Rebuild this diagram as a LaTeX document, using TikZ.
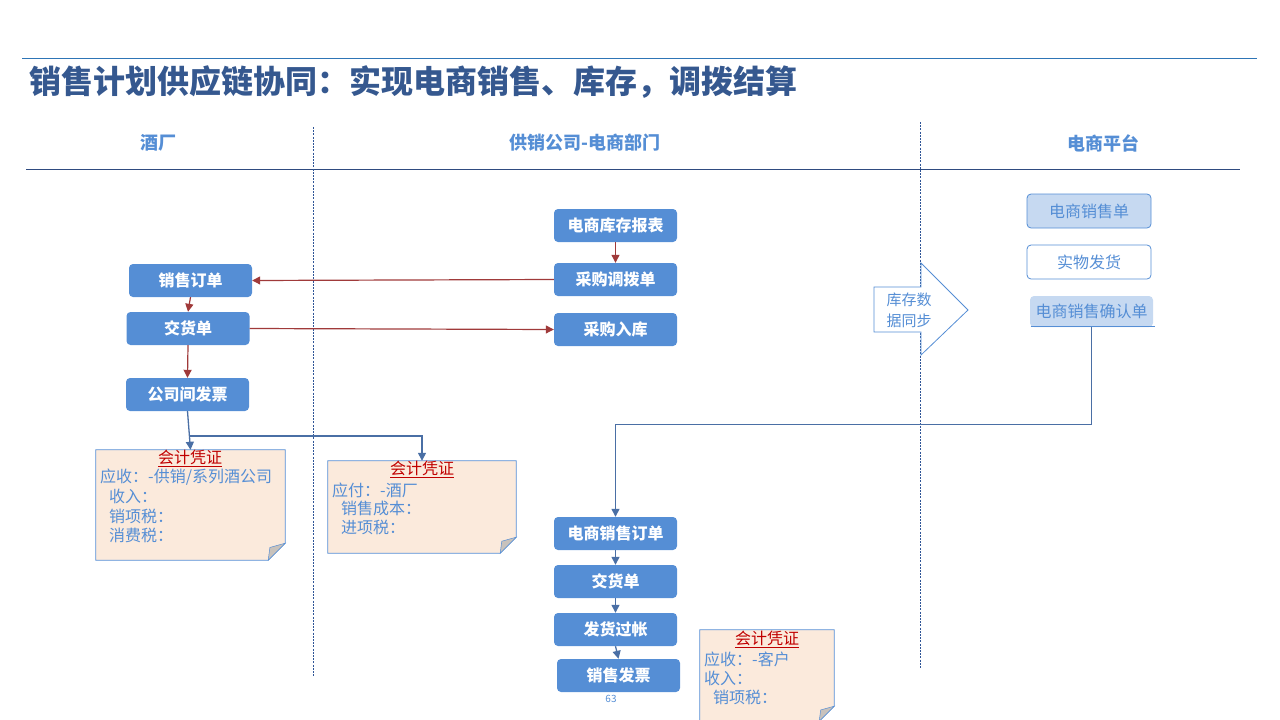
\documentclass[tikz,border=0pt]{standalone}
\usepackage{fontspec}
\setmainfont{Noto Sans CJK SC}
\usetikzlibrary{arrows.meta,calc}

\definecolor{boxblue}{HTML}{558ED5}
\definecolor{lightbox}{HTML}{C6D9F1}
\definecolor{titleblue}{HTML}{35588F}
\definecolor{ruleblue}{HTML}{2E75B6}
\definecolor{laneline}{HTML}{2F4B80}
\definecolor{dashblue}{HTML}{2F5597}
\definecolor{flowred}{HTML}{A03A3A}
\definecolor{flowblue}{HTML}{4A6FA5}
\definecolor{notefill}{HTML}{FBEADC}
\definecolor{foldgray}{HTML}{C8C2BC}
\definecolor{vouchred}{HTML}{C00000}

% sheet with a folded lower-right corner, drawn round an empty node
\newcommand{\notesheet}[2]{%
  \filldraw[fill=notefill, draw=boxblue, line width=0.8pt]
    (#1.north west) -- (#1.north east) -- ([yshift=#2]#1.south east)
    -- ([xshift=-#2]#1.south east) -- (#1.south west) -- cycle;
  \filldraw[fill=foldgray, draw=boxblue, line width=0.5pt]
    ([yshift=#2]#1.south east) -- ([xshift=-0.9*#2,yshift=0.75*#2]#1.south east)
    -- ([xshift=-#2]#1.south east) -- cycle;
}

\begin{document}
\begin{tikzpicture}[x=1pt,y=-1pt,
  flow/.style={rectangle, rounded corners=4pt, fill=boxblue, text=white,
    font=\bfseries\fontsize{16}{18}\selectfont, minimum width=123pt,
    minimum height=33pt, inner sep=0pt},
  platbox/.style={rectangle, rounded corners=4pt, draw=boxblue, line width=0.8pt,
    text=boxblue, font=\fontsize{16}{18}\selectfont, minimum width=124pt,
    minimum height=34pt, inner sep=0pt},
  lanehead/.style={text=boxblue, font=\bfseries\fontsize{18}{20}\selectfont},
  lanesep/.style={draw=dashblue, line width=0.6pt, dash pattern=on 2pt off 1.2pt},
  redarr/.style={draw=flowred, line width=1.2pt, -{Triangle[length=8pt,width=8pt]}},
  bluearr/.style={draw=flowblue, line width=1.3pt, -{Triangle[length=8pt,width=8pt]}},
  sheet/.style={rectangle, minimum width=#1, inner sep=0pt},
  vouch/.style={text=vouchred, font=\fontsize{16}{18}\selectfont, inner sep=0pt},
  entry/.style={text=boxblue, font=\fontsize{16}{18}\selectfont, anchor=west, inner sep=0pt}
]
\useasboundingbox (0,0) rectangle (1280,720);

% title and rules
\draw[ruleblue, line width=0.8pt] (22,58) -- (1257,58);
\node[anchor=west, text=titleblue, font=\bfseries\fontsize{32}{36}\selectfont, inner sep=0pt]
  (title) at (29,82) {销售计划供应链协同：实现电商销售、库存，调拨结算};

% swim lanes
\draw[laneline, line width=1pt] (26,169) -- (1240,169);
\draw[lanesep] (313,127) -- (313,676);
\draw[lanesep] (920,122) -- (920,669);
\node[lanehead] (laneA) at (158,143) {酒厂};
\node[lanehead] (laneB) at (585,143) {供销公司-电商部门};
\node[lanehead] (laneC) at (1103,143) {电商平台};

% distillery lane
\node[flow] (so)  at (190.5,280.5) {销售订单};
\node[flow] (dn)  at (188,328.5)   {交货单};
\node[flow] (inv) at (187.5,394.5) {公司间发票};

% supply company lane
\node[flow] (stock)    at (615.5,225.5) {电商库存报表};
\node[flow] (transfer) at (615.5,279.5) {采购调拨单};
\node[flow] (pin)      at (615.5,329.5) {采购入库};
\node[flow] (eso)      at (615.5,533.5) {电商销售订单};
\node[flow] (dn2)      at (615.5,581.5) {交货单};
\node[flow] (post)     at (615.5,629.5) {发货过帐};
\node[flow] (bill)     at (618.5,675.5) {销售发票};
\node[text=boxblue, font=\fontsize{10}{12}\selectfont, inner sep=0pt] (pageno) at (611,699) {63};

% platform lane
\node[platbox, fill=lightbox] (esale) at (1089,211) {电商销售单};
\node[platbox, fill=white]    (ship)  at (1089,262) {实物发货};
\node[platbox, draw=none, fill=lightbox, minimum width=123pt, minimum height=31pt]
  (conf) at (1091.5,311.5) {电商销售确认单};
\draw[boxblue, line width=0.8pt] ([xshift=1pt,yshift=1pt]conf.south west) -- ([xshift=2pt,yshift=1pt]conf.south east);

% stock sync block arrow
\filldraw[fill=white, draw=boxblue, line width=0.8pt]
  (874,287) -- (921,287) -- (921,263) -- (968,310) -- (921,355) -- (921,332) -- (874,332) -- cycle;
\node[text=boxblue, font=\fontsize{15}{21}\selectfont, align=left, inner sep=0pt]
  (sync) at (909,310) {库存数\\据同步};

% vouchers
\node[sheet=189pt, minimum height=110pt] (n1) at (190.5,505) {};
\notesheet{n1}{17pt}
\node[vouch] (n1t) at (190,458) {\underline{会计凭证}};
\node[entry] (n1a) at (100,477) {应收：-供销/系列酒公司};
\node[entry] (n1b) at (109,496) {收入：};
\node[entry] (n1c) at (109,516) {销项税：};
\node[entry] (n1d) at (109,535) {消费税：};

\node[sheet=188pt, minimum height=92pt] (n2) at (422,507) {};
\notesheet{n2}{16pt}
\node[vouch] (n2t) at (422,469) {\underline{会计凭证}};
\node[entry] (n2a) at (332,490) {应付：-酒厂};
\node[entry] (n2b) at (341,508) {销售成本：};
\node[entry] (n2c) at (341,527) {进项税：};

\node[sheet=134pt, minimum height=91pt] (n3) at (767,675.5) {};
\notesheet{n3}{15pt}
\node[vouch] (n3t) at (767,639) {\underline{会计凭证}};
\node[entry] (n3a) at (704,659) {应收：-客户};
\node[entry] (n3b) at (704,678) {收入：};
\node[entry] (n3c) at (713,697) {销项税：};

% transfer flow
\draw[redarr] (stock) -- (transfer);
\draw[redarr] (transfer.west) -- (so.east);
\draw[redarr] (so.south) -- (dn.north);
\draw[redarr] (dn.east) -- (pin.west);
\draw[redarr] (dn.south) -- (inv.north);

% invoice to vouchers
\coordinate (split) at (189,436);
\draw[bluearr] (inv.south) -- (n1.north);
\draw[bluearr] (split) -| (n2.north);

% platform sale flow
\draw[bluearr] (conf.south) -- ++(0,97) -| (eso.north);
\draw[bluearr] (eso) -- (dn2);
\draw[bluearr] (dn2) -- (post);
\draw[bluearr] (post.south) -- (bill.north);
\end{tikzpicture}
\end{document}
